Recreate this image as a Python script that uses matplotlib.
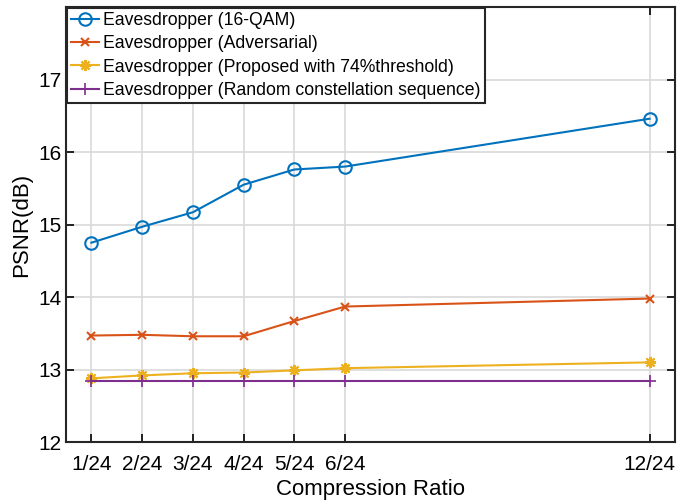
"""
PSNR vs compression ratio for the eavesdropper cases
"""

import matplotlib
matplotlib.use('Agg')
import matplotlib.pyplot as plt

plt.rcParams['font.family'] = ['Liberation Sans', 'DejaVu Sans']

# data
ratio_pos = [1, 2, 3, 4, 5, 6, 12]
ratio_labels = ['1/24', '2/24', '3/24', '4/24', '5/24', '6/24', '12/24']
psnr_qam = [14.75, 14.97, 15.17, 15.55, 15.76, 15.80, 16.46]
psnr_adv = [13.47, 13.48, 13.46, 13.46, 13.67, 13.87, 13.98]
psnr_prop = [12.88, 12.92, 12.95, 12.96, 12.99, 13.02, 13.10]
psnr_rand = [12.84, 12.84, 12.84, 12.84, 12.84, 12.84, 12.84]

fig = plt.figure(figsize=(6.77, 5.03), dpi=100)
ax = fig.add_axes([0.0975, 0.121, 0.8995, 0.865])

ax.plot(ratio_pos, psnr_qam, '-o', color='#0072BD', lw=1.5, ms=9, mfc='none', mew=1.5,
        label='Eavesdropper (16-QAM)')
ax.plot(ratio_pos, psnr_adv, '-x', color='#D95319', lw=1.5, ms=6, mew=1.5,
        label='Eavesdropper (Adversarial)')
# MATLAB style asterisk marker
ax.plot(ratio_pos, psnr_prop, '-', marker=(8, 2, 0), color='#EDB120', lw=1.5, ms=8, mew=1.5,
        label='Eavesdropper (Proposed with 74%threshold)')
ax.plot(ratio_pos, psnr_rand, '-+', color='#7E2F8E', lw=1.5, ms=9, mew=1.2,
        label='Eavesdropper (Random constellation sequence)')

ax.set_xlim(0.5, 12.5)
ax.set_ylim(12, 18)
ax.set_xticks(ratio_pos)
ax.set_xticklabels(ratio_labels)
ax.set_yticks([12, 13, 14, 15, 16, 17])
ax.tick_params(direction='in', length=6, width=1.2, labelsize=15, top=True, right=True)
ax.tick_params(axis='x', pad=9)
ax.grid(True, color='#d9d9d9', lw=1.2)
ax.set_axisbelow(True)
for s in ax.spines.values():
    s.set_linewidth(1.5)
    s.set_color('#262626')

ax.set_xlabel('Compression Ratio', fontsize=16, labelpad=4)
ax.set_ylabel('PSNR(dB)', fontsize=16, labelpad=4)

leg = ax.legend(loc='upper left', fontsize=12.7, fancybox=False, framealpha=1,
                edgecolor='#262626', borderaxespad=0.05, handlelength=1.6,
                handletextpad=0.25, borderpad=0.22, labelspacing=0.36)
leg.get_frame().set_linewidth(1.5)

fig.savefig('out.png', dpi=100)
